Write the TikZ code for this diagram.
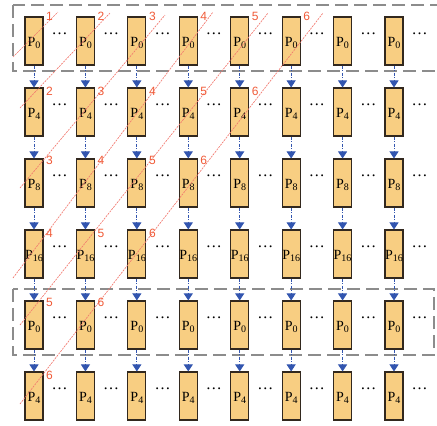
\documentclass[tikz,border=0pt]{standalone}
\usepackage{fontspec}
\setmainfont{Liberation Serif}
\newfontfamily\labfont{Liberation Sans}
\usetikzlibrary{arrows.meta}
\definecolor{boxfill}{RGB}{248,206,130}
\definecolor{boxline}{RGB}{50,40,30}
\definecolor{arrblue}{RGB}{50,85,175}
\definecolor{wavered}{RGB}{242,120,110}
\definecolor{labred}{RGB}{240,90,55}
\definecolor{framegray}{RGB}{140,140,140}
\newcommand\Psub[1]{\raisebox{0pt}[11.5pt][0pt]{P\raisebox{-1.5pt}{\fontsize{10}{10}\selectfont #1}}}
\begin{document}
\begin{tikzpicture}[x=1pt,y=-1pt,
 pbox/.style={draw=boxline, fill=boxfill, line width=1.1pt, minimum width=18pt, minimum height=48pt, inner sep=0pt, font=\fontsize{14}{14}\selectfont},
 dotsnode/.style={font=\fontsize{16}{16}\selectfont, inner sep=0pt},
 flow/.style={draw=arrblue, line width=0.9pt, dash pattern=on 3pt off 1.5pt on 1pt off 1.5pt, -{Triangle[width=9pt,length=7pt,fill=arrblue]}},
 wave/.style={draw=wavered, line width=0.65pt, dash pattern=on 2pt off 1pt},
 wavelab/.style={text=labred, font=\labfont\fontsize{12}{12}\selectfont, inner sep=0pt},
 frame/.style={draw=framegray, line width=1.1pt, dash pattern=on 13pt off 6pt}]
\useasboundingbox (0,0) rectangle (437,426);
% frames
\coordinate (f1a) at (13,5); \coordinate (f1b) at (447,71);
\draw[frame] (f1a) rectangle (f1b);
\coordinate (f2a) at (13,289); \coordinate (f2b) at (434,355);
\draw[frame] (f2a) rectangle (f2b);
% boxes and dots
\foreach \r/\s in {0/0,1/4,2/8,3/16,4/0,5/4} {
  \foreach \c in {0,...,7} {
    \node[pbox] (b\r-\c) at ({34+51.43*\c},{41+71*\r}) {\Psub{\s}};
    \node[dotsnode] (d\r-\c) at ({34+51.43*\c+25.7},{41+71*\r-7.5}) {…};
  }
}
% arrows
\foreach \r [evaluate=\r as \n using int(\r+1)] in {0,...,4} {
  \foreach \c in {0,...,7} {
    \draw[flow] (b\r-\c.south) -- (b\n-\c.north);
  }
}
% wavefront lines
\coordinate (w1a) at (13,57);  \coordinate (w1b) at (58,12);
\coordinate (w2a) at (20,108); \coordinate (w2b) at (110,13);
\coordinate (w3a) at (20,188); \coordinate (w3b) at (165,15);
\coordinate (w4a) at (13,278); \coordinate (w4b) at (213,12);
\coordinate (w5a) at (20,325); \coordinate (w5b) at (268,13);
\coordinate (w6a) at (20,404); \coordinate (w6b) at (323,13);
\foreach \k in {1,...,6} { \draw[wave] (w\k a) -- (w\k b); }
% labels
\foreach \r/\ly in {0/16,1/91,2/160,3/233,4/302.5,5/375.5} {
  \foreach \c in {0,...,5} {
    \pgfmathtruncatemacro\k{\r+\c+1}
    \ifnum\k<7
      \node[wavelab] (lab\r-\c) at ({34+51.43*\c+15.5},\ly) {\k};
    \fi
  }
}
\end{tikzpicture}
\end{document}
